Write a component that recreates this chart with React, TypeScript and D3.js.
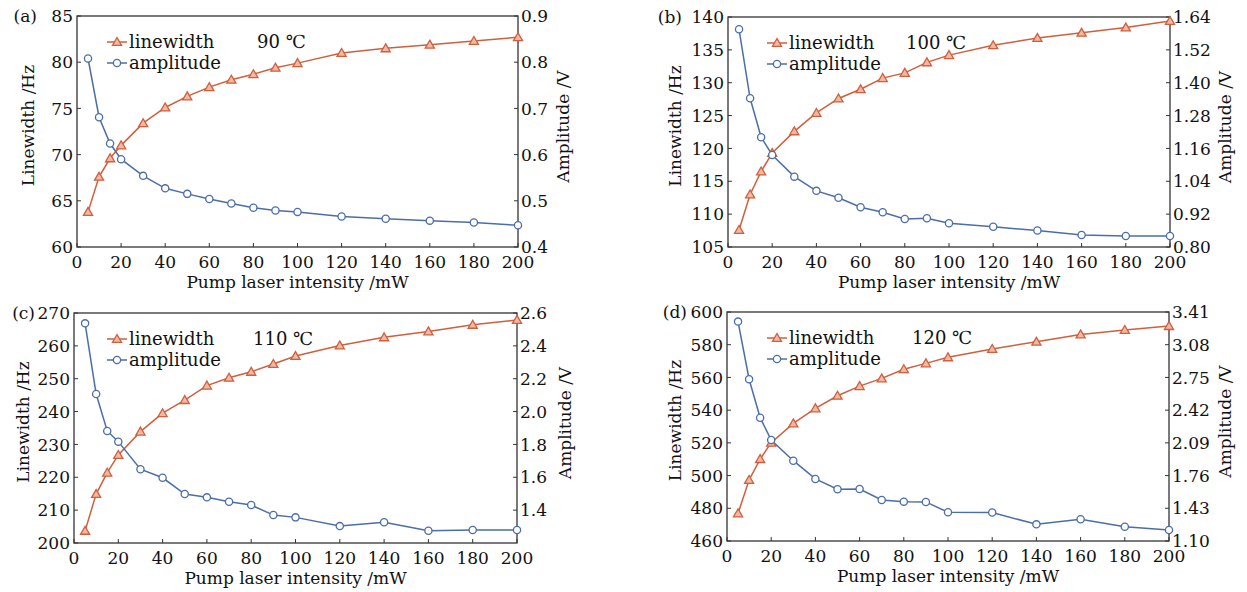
import * as d3 from "d3";

// pump laser intensity (mW), shared by all four panels
const pump = [5, 10, 15, 20, 30, 40, 50, 60, 70, 80, 90, 100, 120, 140, 160, 180, 200];
const xTicks = [0, 20, 40, 60, 80, 100, 120, 140, 160, 180, 200];

// (a) 90 ℃
const linewidthA = [63.8, 67.6, 69.6, 71.0, 73.4, 75.1, 76.3, 77.3, 78.1, 78.7, 79.4, 79.9, 81.0, 81.5, 81.9, 82.3, 82.7];
const amplitudeA = [0.808, 0.681, 0.624, 0.59, 0.554, 0.527, 0.515, 0.504, 0.494, 0.485, 0.479, 0.476, 0.466, 0.461, 0.457, 0.453, 0.447];
const lwTicksA = [60, 65, 70, 75, 80, 85];
const ampTicksA = [0.4, 0.5, 0.6, 0.7, 0.8, 0.9];

// (b) 100 ℃
const linewidthB = [107.6, 113.0, 116.5, 119.3, 122.6, 125.4, 127.6, 129.0, 130.7, 131.5, 133.1, 134.2, 135.7, 136.8, 137.6, 138.4, 139.4];
const amplitudeB = [1.595, 1.343, 1.201, 1.136, 1.057, 1.005, 0.98, 0.945, 0.927, 0.902, 0.905, 0.887, 0.874, 0.86, 0.844, 0.84, 0.84];
const lwTicksB = [105, 110, 115, 120, 125, 130, 135, 140];
const ampTicksB = [0.8, 0.92, 1.04, 1.16, 1.28, 1.4, 1.52, 1.64];

// (c) 110 ℃
const linewidthC = [203.7, 214.9, 221.4, 226.8, 233.9, 239.5, 243.5, 247.9, 250.3, 252.1, 254.5, 256.9, 260.1, 262.6, 264.4, 266.4, 267.9];
const amplitudeC = [2.537, 2.107, 1.882, 1.817, 1.649, 1.597, 1.498, 1.478, 1.451, 1.431, 1.37, 1.356, 1.303, 1.326, 1.275, 1.279, 1.279];
const lwTicksC = [200, 210, 220, 230, 240, 250, 260, 270];
const ampTicksC = [1.4, 1.6, 1.8, 2.0, 2.2, 2.4, 2.6];

// (d) 120 ℃
const linewidthD = [476.9, 497.3, 510.1, 520.1, 531.9, 541.1, 548.8, 554.7, 559.4, 565.0, 568.6, 572.3, 577.4, 581.8, 586.3, 589.0, 591.4];
const amplitudeD = [3.313, 2.732, 2.344, 2.119, 1.91, 1.726, 1.622, 1.625, 1.514, 1.497, 1.494, 1.39, 1.387, 1.268, 1.319, 1.244, 1.211];
const lwTicksD = [460, 480, 500, 520, 540, 560, 580, 600];
const ampTicksD = [1.1, 1.43, 1.76, 2.09, 2.42, 2.75, 3.08, 3.41];

const ORANGE = "#d05f3d";
const BLUE = "#4b6ea8";
const AXIS = "#333";
const FONT = "'DejaVu Serif', 'Liberation Serif', serif";

const panels = [
  {
    tag: "(a)", temp: "90 ℃", lw: linewidthA, amp: amplitudeA,
    lwTicks: lwTicksA, ampTicks: ampTicksA, ampDomain: [0.4, 0.9], ampFmt: ".1f",
    left: 77, right: 518, top: 16, bottom: 247,
    tagX: 37, yTitleDx: 49, ampTitleDx: 45, legendDx: 30, tempDx: 180,
  },
  {
    tag: "(b)", temp: "100 ℃", lw: linewidthB, amp: amplitudeB,
    lwTicks: lwTicksB, ampTicks: ampTicksB, ampDomain: [0.8, 1.64], ampFmt: ".2f",
    left: 728, right: 1170, top: 17, bottom: 247,
    tagX: 682, yTitleDx: 53, ampTitleDx: 55, legendDx: 39, tempDx: 178,
  },
  {
    tag: "(c)", temp: "110 ℃", lw: linewidthC, amp: amplitudeC,
    lwTicks: lwTicksC, ampTicks: ampTicksC, ampDomain: [1.2, 2.6], ampFmt: ".1f",
    left: 74, right: 517, top: 313, bottom: 543,
    tagX: 35, yTitleDx: 51, ampTitleDx: 48, legendDx: 33, tempDx: 179,
  },
  {
    tag: "(d)", temp: "120 ℃", lw: linewidthD, amp: amplitudeD,
    lwTicks: lwTicksD, ampTicks: ampTicksD, ampDomain: [1.1, 3.41], ampFmt: ".2f",
    left: 727, right: 1169, top: 312, bottom: 541,
    tagX: 687, yTitleDx: 52, ampTitleDx: 56, legendDx: 40, tempDx: 185,
  },
];

const triangle = d3.symbol(d3.symbolTriangle, 36)();

const Triangle = ({ x, y }) => (
  <path d={triangle} transform={`translate(${x},${y + 0.8})`} fill="#f0b9a5" stroke={ORANGE} strokeWidth={1.3} />
);
const Circle = ({ x, y }) => (
  <circle cx={x} cy={y} r={3.6} fill="#fff" stroke={BLUE} strokeWidth={1.3} />
);

const Panel = ({ p }) => {
  const x = d3.scaleLinear().domain([0, 200]).range([p.left, p.right]);
  const yL = d3
    .scaleLinear()
    .domain([p.lwTicks[0], p.lwTicks[p.lwTicks.length - 1]])
    .range([p.bottom, p.top]);
  const yR = d3.scaleLinear().domain(p.ampDomain).range([p.bottom, p.top]);
  const fmt = d3.format(p.ampFmt);

  const lineL = d3.line().x((d, i) => x(pump[i])).y((d) => yL(d));
  const lineR = d3.line().x((d, i) => x(pump[i])).y((d) => yR(d));

  const lx = p.left + p.legendDx;
  const ly1 = p.top + 26;
  const ly2 = p.top + 47;
  const midY = (p.top + p.bottom) / 2;

  return (
    <g fontFamily={FONT} fill="#111">
      {/* ticks */}
      {xTicks.map((t) => (
        <g key={"x" + t}>
          <line x1={x(t)} x2={x(t)} y1={p.bottom} y2={p.bottom - 4} stroke={AXIS} />
          <text x={x(t)} y={p.bottom + 21} textAnchor="middle" fontSize={17}>
            {t}
          </text>
        </g>
      ))}
      {p.lwTicks.map((t) => (
        <g key={"l" + t}>
          <line x1={p.left} x2={p.left + 4} y1={yL(t)} y2={yL(t)} stroke={AXIS} />
          <text x={p.left - 4} y={yL(t)} dy="0.36em" textAnchor="end" fontSize={17}>
            {t}
          </text>
        </g>
      ))}
      {p.ampTicks.map((t) => (
        <g key={"r" + t}>
          <line x1={p.right} x2={p.right - 4} y1={yR(t)} y2={yR(t)} stroke={AXIS} />
          <text x={p.right + 3} y={yR(t)} dy="0.36em" textAnchor="start" fontSize={17}>
            {fmt(t)}
          </text>
        </g>
      ))}

      <rect
        x={p.left}
        y={p.top}
        width={p.right - p.left}
        height={p.bottom - p.top}
        fill="none"
        stroke={AXIS}
        strokeWidth={1.3}
      />

      {/* titles */}
      <text x={p.tagX} y={p.top} dy="0.36em" textAnchor="end" fontSize={17}>
        {p.tag}
      </text>
      <text x={(p.left + p.right) / 2} y={p.bottom + 41} textAnchor="middle" fontSize={17}>
        Pump laser intensity /mW
      </text>
      <text
        transform={`translate(${p.left - p.yTitleDx},${midY - 6}) rotate(-90)`}
        textAnchor="middle"
        dy="0.36em"
        fontSize={17}
      >
        Linewidth /Hz
      </text>
      <text
        transform={`translate(${p.right + p.ampTitleDx},${midY - 5}) rotate(-90)`}
        textAnchor="middle"
        dy="0.36em"
        fontSize={17}
      >
        Amplitude /V
      </text>

      {/* series */}
      <path d={lineL(p.lw)} fill="none" stroke={ORANGE} strokeWidth={1.5} />
      <path d={lineR(p.amp)} fill="none" stroke={BLUE} strokeWidth={1.5} />
      {p.lw.map((v, i) => (
        <Triangle key={"t" + i} x={x(pump[i])} y={yL(v)} />
      ))}
      {p.amp.map((v, i) => (
        <Circle key={"c" + i} x={x(pump[i])} y={yR(v)} />
      ))}

      {/* legend */}
      <line x1={lx} x2={lx + 20} y1={ly1} y2={ly1} stroke={ORANGE} strokeWidth={1.5} />
      <Triangle x={lx + 10} y={ly1} />
      <text x={lx + 22} y={ly1} dy="0.36em" fontSize={18}>
        linewidth
      </text>
      <line x1={lx} x2={lx + 20} y1={ly2} y2={ly2} stroke={BLUE} strokeWidth={1.5} />
      <Circle x={lx + 10} y={ly2} />
      <text x={lx + 22} y={ly2} dy="0.36em" fontSize={18}>
        amplitude
      </text>
      <text x={p.left + p.tempDx} y={ly1} dy="0.36em" fontSize={18}>
        {p.temp}
      </text>
    </g>
  );
};

export default function App() {
  return (
    <svg
      width={1247}
      height={592}
      style={{ position: "absolute", left: 0, top: 0, background: "#fff" }}
    >
      {panels.map((p) => (
        <Panel key={p.tag} p={p} />
      ))}
    </svg>
  );
}
